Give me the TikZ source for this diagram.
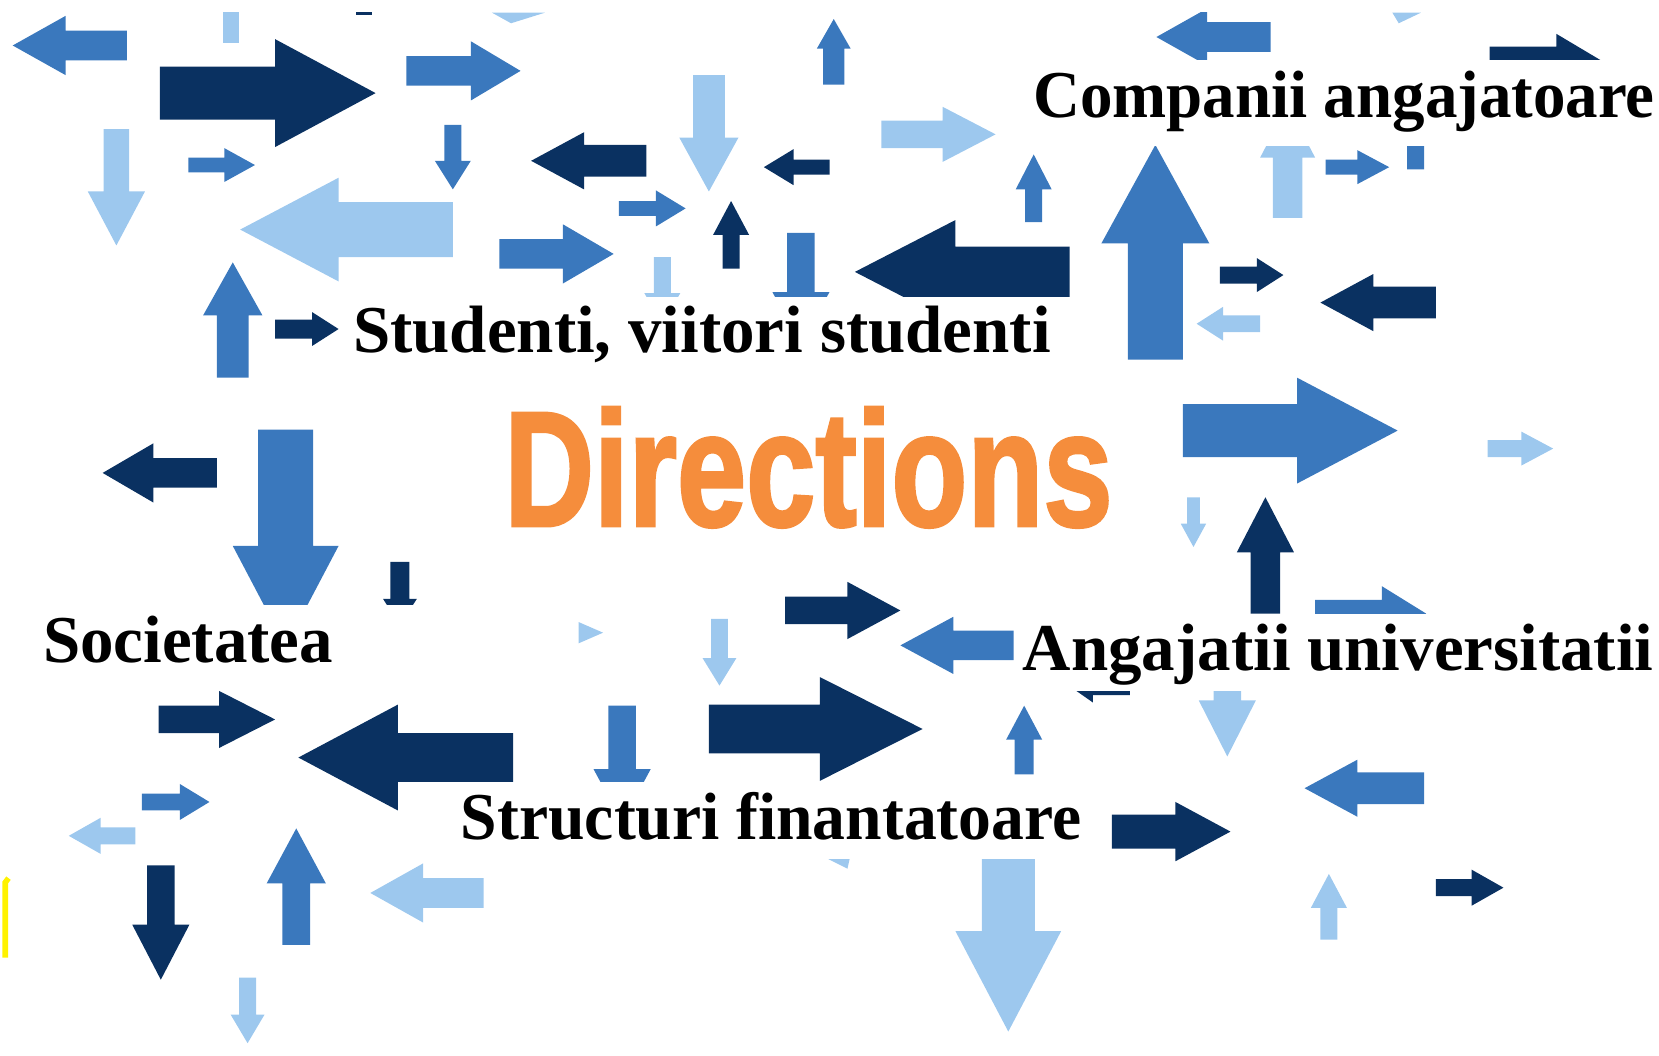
\documentclass[tikz,border=0pt]{standalone}
\usepackage{fontspec}
\setmainfont{Liberation Serif}
\newfontfamily\dirfont[FakeBold=2]{Liberation Sans}
\usepackage{tikz}
\definecolor{navy}{HTML}{0A3161}
\definecolor{midblue}{HTML}{3A78BD}
\definecolor{skyblue}{HTML}{9DC8EE}
\definecolor{dirorange}{HTML}{F58D3C}
% block arrow: [colour](tail)(angle:length:shaft half width:head half width:head length)
\def\blockarrow[#1](#2)(#3:#4:#5:#6:#7){\fill[#1,shift={(#2)},rotate=#3] (0,-#5) -- ({#4-#7},-#5) -- ({#4-#7},-#6) -- (#4,0) -- ({#4-#7},#6) -- ({#4-#7},#5) -- (0,#5) -- cycle;}
\tikzset{lbl/.style={anchor=base west, inner sep=0pt, font=\bfseries\fontsize{18}{18}\selectfont}}

\begin{document}
\begin{tikzpicture}[x=0.01cm, y=-0.01cm]
		%%%%% START %%%%%
		\useasboundingbox (0,0) rectangle (1568,998);
		
		\begin{scope}
		\clip (0,12) rectangle (1568,998);
		
		% top row
		\blockarrow[midblue](120,43)(180:108:14:28:50);
		\fill[skyblue] (211,0) rectangle (226,41);
		\fill[navy] (336,0) rectangle (352,14);
		\fill[skyblue] (465,12) -- (515,12) -- (483,22) -- cycle;
		\blockarrow[navy](151,88)(0:204:25:51:95);
		\blockarrow[midblue](384,67)(0:108:14:28:47);
		\blockarrow[midblue](788,80)(90:62:10:16:28);
		\blockarrow[midblue](1201,35)(180:108:14:27:48);
		\fill[skyblue] (1316,12) -- (1343,12) -- (1322,22) -- cycle;
		\blockarrow[navy](1408,57)(0:105:13:25:42);
		
		% second row
		\blockarrow[skyblue](110,122)(270:110:12:27:51);
		\blockarrow[midblue](178,156)(0:63:7:16:29);
		\blockarrow[skyblue](428,217)(180:201:26:49:93);
		\blockarrow[midblue](428,118)(270:61:8:17:27);
		\blockarrow[navy](611,152)(180:109:15:27:50);
		\blockarrow[skyblue](670,71)(270:110:15:28:51);
		\blockarrow[navy](784,158)(180:62:7:17:28);
		\blockarrow[skyblue](833,127)(0:108:13:26:50);
		\blockarrow[midblue](977,210)(90:64:8:17:33);
		\blockarrow[midblue](1092,340)(90:203:26:51:93);
		\blockarrow[skyblue](1217,206)(90:107:14:26:50);
		\blockarrow[midblue](1253,158)(0:60:7:16:30);
		\blockarrow[midblue](1338,160)(90:60:8:17:28);
		
		% third row
		\blockarrow[midblue](585,197)(0:63:7:17:28);
		\blockarrow[navy](691,254)(90:64:8:17:32);
		\blockarrow[midblue](472,240)(0:108:14:28:48);
		\blockarrow[skyblue](626,243)(270:64:8:17:30);
		\blockarrow[midblue](757,220)(270:106:13:27:50);
		\blockarrow[navy](1011,257)(180:203:24:49:95);
		\blockarrow[navy](1153,260)(0:60:8:16:25);
		\blockarrow[skyblue](1191,306)(180:60:8:16:25);
		\blockarrow[navy](1357,286)(180:109:15:27:50);
		\blockarrow[midblue](220,357)(90:109:15:28:50);
		\blockarrow[navy](260,311)(0:60:9:16:25);
		
		% fourth row
		\blockarrow[navy](205,447)(180:108:14:28:48);
		\blockarrow[midblue](270,406)(270:205:26:50:95);
		\blockarrow[navy](378,531)(270:60:9:16:25);
		\blockarrow[midblue](1118,407)(0:203:25:50:95);
		\blockarrow[skyblue](1406,424)(0:62:8:16:30);
		\blockarrow[skyblue](1128,470)(270:47:6:12:22);
		\blockarrow[navy](1196,580)(90:110:14:27:52);
		
		% fifth row
		\fill[skyblue] (547,588) -- (570,598) -- (547,608) -- cycle;
		\blockarrow[skyblue](680,585)(270:63:8:16:26);
		\blockarrow[navy](742,577)(0:109:13:27:50);
		\blockarrow[midblue](958,610)(180:107:14:27:50);
		\blockarrow[midblue](1243,580)(0:105:13:26:42);
		
		% sixth row
		\blockarrow[navy](150,680)(0:110:13:27:53);
		\blockarrow[navy](485,716)(180:203:23:50:94);
		\blockarrow[midblue](588,667)(270:110:13:27:50);
		\blockarrow[navy](670,689)(0:202:23:49:97);
		\blockarrow[midblue](968,732)(90:65:9:17:32);
		\blockarrow[navy](1068,650)(180:55:7:14:20);
		\blockarrow[skyblue](1160,640)(270:75:13:27:53);
		\blockarrow[midblue](1346,745)(180:113:15:27:50);
		
		% bottom rows
		\blockarrow[midblue](134,758)(0:64:8:17:28);
		\blockarrow[skyblue](128,790)(180:63:8:17:30);
		\blockarrow[navy](1051,786)(0:112:16:28:52);
		\blockarrow[navy](152,818)(270:108:13:27:52);
		\blockarrow[midblue](280,893)(90:110:13:28:52);
		\blockarrow[skyblue](457,844)(180:107:14:28:50);
		\blockarrow[skyblue](953,800)(270:175:25:50:95);
		\blockarrow[skyblue](1256,888)(90:62:8:17:32);
		\blockarrow[navy](1357,839)(0:64:8:17:30);
		\blockarrow[skyblue](234,924)(270:62:8:16:27);
		\fill[skyblue] (783,812) -- (803,812) -- (801,821) -- cycle;
		
		% white bands behind the labels
		\fill[white] (965,57) rectangle (1568,138);
		\fill[white] (325,281) rectangle (1015,345);
		\fill[white] (30,572) rectangle (400,640);
		\fill[white] (960,580) rectangle (1568,653);
		\fill[white] (425,739) rectangle (1030,812);
		\end{scope}
		
		\draw[yellow, line width=1.5] (8,830) -- (5,834) -- (5,905);
		
		\node[lbl, xscale=0.97] (companii) at (976,111) {Companii angajatoare};
		\node[lbl] (studenti) at (333,333) {Studenti, viitori studenti};
		\node[lbl] (societatea) at (40,626) {Societatea};
		\node[lbl] (angajatii) at (966,634) {Angajatii universitatii};
		\node[lbl, xscale=0.98] (structuri) at (435,793) {Structuri finantatoare};
		
		\node[anchor=base west, inner sep=0pt, xscale=0.76, text=dirorange, font=\dirfont\bfseries\fontsize{44}{44}\selectfont] (directions) at (476,497) {Directions};
		
		%%%%% END %%%%%
\end{tikzpicture}
\end{document}
